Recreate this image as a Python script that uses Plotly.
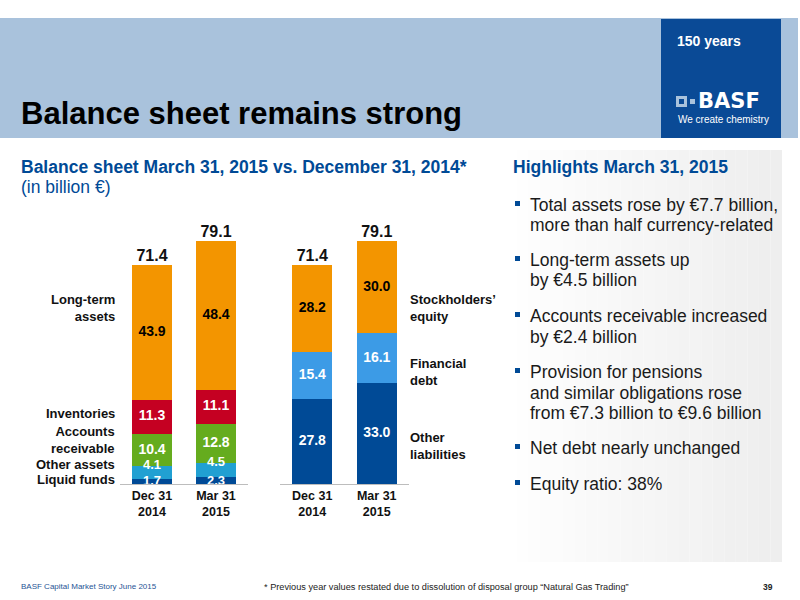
import plotly.graph_objects as go

# --- data -----------------------------------------------------------------
periods = ["Dec 31<br>2014", "Mar 31<br>2015"]

liquid_funds = [1.7, 2.3]
other_assets = [4.1, 4.5]
receivables = [10.4, 12.8]
inventories = [11.3, 11.1]
long_term_assets = [43.9, 48.4]

other_liabilities = [27.8, 33.0]
financial_debt = [15.4, 16.1]
equity = [28.2, 30.0]

totals = [71.4, 79.1]

highlights = [
    ["Total assets rose by €7.7 billion,", "more than half currency-related"],
    ["Long-term assets up", "by €4.5 billion"],
    ["Accounts receivable increased", "by €2.4 billion"],
    ["Provision for pensions", "and similar obligations rose",
     "from €7.3 billion to €9.6 billion"],
    ["Net debt nearly unchanged"],
    ["Equity ratio: 38%"],
]

BLUE = "#004A96"
ORANGE = "#F39500"
FONT = "Liberation Sans, Arial, sans-serif"


def px(x):
    return x / 800


def py(y):
    return 1 - y / 600


# (name, values, colour, label colour, label size, where the label sits in the segment)
asset_series = [
    ("Liquid funds", liquid_funds, BLUE, "white", 13, 0.35),
    ("Other assets", other_assets, "#21A0D2", "white", 13, 1.0),
    ("Accounts receivable", receivables, "#65AC1E", "white", 14, 0.5),
    ("Inventories", inventories, "#C50022", "white", 14, 0.5),
    ("Long-term assets", long_term_assets, ORANGE, "black", 14, 0.5),
]
liab_series = [
    ("Other liabilities", other_liabilities, BLUE, "white", 14, 0.5),
    ("Financial debt", financial_debt, "#3C9BE6", "white", 14, 0.5),
    ("Stockholders' equity", equity, ORANGE, "black", 14, 0.5),
]

fig = go.Figure()


def add_stack(series, xa, ya):
    base = [0.0] * len(periods)
    for name, vals, color, tcolor, tsize, frac in series:
        fig.add_bar(x=periods, y=vals, name=name, marker_color=color,
                    marker_line_width=0, width=0.625, xaxis=xa, yaxis=ya,
                    hoverinfo="skip")
        pos = [b + v * frac for b, v in zip(base, vals)]
        fig.add_scatter(x=periods, y=pos, mode="text",
                        text=[f"<b>{v:.1f}</b>" for v in vals],
                        textfont=dict(color=tcolor, size=tsize, family=FONT),
                        xaxis=xa, yaxis=ya, hoverinfo="skip")
        base = [b + v for b, v in zip(base, vals)]
    fig.add_scatter(x=periods, y=totals, mode="text",
                    text=[f"<b>{t:.1f}</b>" for t in totals],
                    textposition="top center",
                    textfont=dict(color="#111", size=16, family=FONT),
                    xaxis=xa, yaxis=ya, hoverinfo="skip")


add_stack(asset_series, "x", "y")
add_stack(liab_series, "x2", "y2")

xax = dict(type="category", range=[-0.5, 1.5], showgrid=False, zeroline=False,
           showline=True, linecolor="#BDBDBD", linewidth=1, ticks="",
           tickfont=dict(size=12.5, color="#111", family=FONT),
           tickvals=periods, ticktext=["<b>" + p + "</b>" for p in periods])
yax = dict(range=[0, 90], visible=False, domain=[py(484), py(208)])

shapes = []
# header band + logo box
shapes.append(dict(type="rect", xref="paper", yref="paper", x0=0, x1=px(798),
                   y0=py(138), y1=py(18), fillcolor="#A9C2DC", line_width=0,
                   layer="below"))
shapes.append(dict(type="rect", xref="paper", yref="paper", x0=px(661), x1=px(781),
                   y0=py(138), y1=py(19), fillcolor="#0A4A96", line_width=0,
                   layer="below"))
# BASF logo squares
shapes.append(dict(type="rect", xref="paper", yref="paper", x0=px(676), x1=px(687),
                   y0=py(107), y1=py(96), fillcolor="#A9C2DC", line_width=0))
shapes.append(dict(type="rect", xref="paper", yref="paper", x0=px(679), x1=px(684),
                   y0=py(104), y1=py(99), fillcolor="#0A4A96", line_width=0))
shapes.append(dict(type="rect", xref="paper", yref="paper", x0=px(690), x1=px(695),
                   y0=py(104), y1=py(99), fillcolor="#A9C2DC", line_width=0))
# highlights panel gradient
n = 24
for i in range(n):
    g = int(255 - 17 * i / (n - 1))
    shapes.append(dict(type="rect", xref="paper", yref="paper",
                       x0=px(505 + 277 * i / n), x1=px(505 + 277 * (i + 1) / n),
                       y0=py(562), y1=py(150), fillcolor=f"rgb({g},{g},{g})",
                       line_width=0, layer="below"))

ann = []


def text(x, y, s, size, color="#111", anchor="left", bold=False, family=FONT):
    ann.append(dict(x=px(x), y=py(y), xref="paper", yref="paper",
                    text=f"<b>{s}</b>" if bold else s, showarrow=False,
                    xanchor=anchor, yanchor="middle", align=anchor,
                    font=dict(size=size, color=color, family=family)))


text(19, 114, "Balance sheet remains strong", 31, "#000", bold=True)
text(675, 41, "150 years", 14, "white", bold=True)
text(696, 101, "BASF", 21, "white", bold=True, family="DejaVu Sans")
text(676, 120, "We create chemistry", 10, "white")

text(19, 167, "Balance sheet March 31, 2015 vs. December 31, 2014*", 17.5, BLUE, bold=True)
text(19, 187, "(in billion €)", 17.5, BLUE)

# left category labels
text(117, 308, "Long-term<br>assets", 13, anchor="right", bold=True)
text(117, 413, "Inventories", 13, anchor="right", bold=True)
text(117, 440, "Accounts<br>receivable", 13, anchor="right", bold=True)
text(117, 464, "Other assets", 13, anchor="right", bold=True)
text(117, 479, "Liquid funds", 13, anchor="right", bold=True)
# right category labels
text(408, 308, "Stockholders’<br>equity", 13, bold=True)
text(408, 372, "Financial<br>debt", 13, bold=True)
text(408, 446, "Other<br>liabilities", 13, bold=True)

# highlights
text(511, 167, "Highlights March 31, 2015", 17.5, BLUE, bold=True)
line_y = [[205, 225], [260, 280], [316, 337], [372, 393, 413], [448], [484]]
for block, ys in zip(highlights, line_y):
    shapes.append(dict(type="rect", xref="paper", yref="paper",
                       x0=px(515), x1=px(520), y0=py(ys[0] + 1), y1=py(ys[0] - 4),
                       fillcolor=BLUE, line_width=0))
    for s, y in zip(block, ys):
        text(528, y, s, 17.5, "#1a1a1a")

# footer
text(19, 586, "BASF Capital Market Story June 2015", 8, "#1F5495")
text(262, 587, "* Previous year values restated due to dissolution of disposal group "
     "“Natural Gas Trading”", 9.2, "#222")
text(775, 587, "39", 8.5, "#222", anchor="right", bold=True)

fig.update_layout(
    width=800, height=600, margin=dict(l=0, r=0, t=0, b=0),
    paper_bgcolor="white", plot_bgcolor="rgba(0,0,0,0)",
    barmode="stack", showlegend=False, bargap=0,
    font=dict(family=FONT),
    xaxis=dict(xax, domain=[px(120), px(248)], anchor="y"),
    yaxis=dict(yax, anchor="x"),
    xaxis2=dict(xax, domain=[px(280), px(409)], anchor="y2"),
    yaxis2=dict(yax, anchor="x2"),
    shapes=shapes, annotations=ann,
)

fig.write_html("out.html", config={"displayModeBar": False},
               post_script="document.body.style.margin='0';")
